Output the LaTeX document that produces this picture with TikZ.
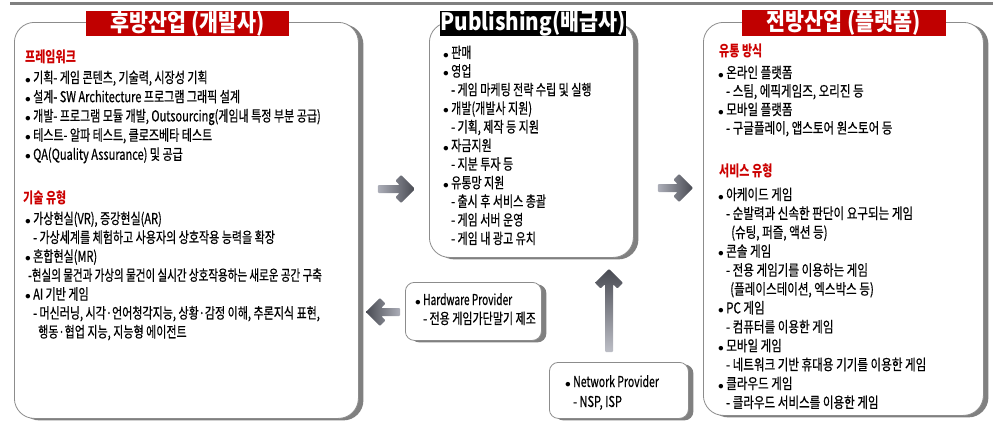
\documentclass[tikz,border=0pt]{standalone}
\usepackage{fontspec}
\newfontfamily\krf[FakeStretch=0.735,FakeBold=0.5]{Noto Sans CJK KR}
\newfontfamily\krr[FakeStretch=0.77,FakeBold=0.5]{Noto Sans CJK KR}
\newfontfamily\krh[FakeStretch=0.735]{Noto Sans CJK KR}
\newfontfamily\ttlf[FakeStretch=0.86]{Noto Sans CJK KR}
\usetikzlibrary{shadows,calc}
\definecolor{tred}{RGB}{192,0,0}
\definecolor{hred}{RGB}{204,0,0}
\definecolor{bord}{RGB}{140,140,140}
\definecolor{shad}{RGB}{128,128,128}
\definecolor{arlight}{RGB}{172,174,184}
\definecolor{ardark}{RGB}{72,74,82}
\newcommand\bulx{\makebox[8pt][l]{\scalebox{0.8}{$\bullet$}}}
\newcommand\subind{\hspace*{8pt}}
\newcommand\gRarrow[2]{%
 \shade[left color=arlight, right color=ardark, rounded corners=1pt] ($(#1)+(0,-4)$) -- ($(#2)+(-15.4,-4)$) -- ($(#2)+(-19.7,-8.3)$) -- ($(#2)+(-14,-14)$) -- (#2) -- ($(#2)+(-14,14)$) -- ($(#2)+(-19.7,8.3)$) -- ($(#2)+(-15.4,4)$) -- ($(#1)+(0,4)$) -- cycle;}
\newcommand\gLarrow[2]{%
 \shade[right color=arlight, left color=ardark, rounded corners=1pt] ($(#1)+(0,-4)$) -- ($(#2)+(15.4,-4)$) -- ($(#2)+(19.7,-8.3)$) -- ($(#2)+(14,-14)$) -- (#2) -- ($(#2)+(14,14)$) -- ($(#2)+(19.7,8.3)$) -- ($(#2)+(15.4,4)$) -- ($(#1)+(0,4)$) -- cycle;}
\newcommand\gUarrow[2]{%
 \shade[bottom color=arlight!80!white, top color=ardark, rounded corners=1pt] ($(#1)+(-4,0)$) -- ($(#2)+(-4,15.4)$) -- ($(#2)+(-8.3,19.7)$) -- ($(#2)+(-14,14)$) -- (#2) -- ($(#2)+(14,14)$) -- ($(#2)+(8.3,19.7)$) -- ($(#2)+(4,15.4)$) -- ($(#1)+(4,0)$) -- cycle;}
\tikzset{
 box/.style={draw=bord, line width=0.8pt, fill=white, rounded corners=20pt, inner sep=0pt, anchor=north west,
   drop shadow={shadow xshift=5pt, shadow yshift=-2pt, fill=shad, opacity=1}},
 sbox/.style={box, rounded corners=9pt},
 ttl/.style={fill=tred, text=white, font=\ttlf\bfseries\fontsize{24}{24}\selectfont, inner sep=0pt, minimum height=23pt},
 txt/.style={anchor=base west, inner sep=0pt, font=\krf\fontsize{15}{19}\selectfont},
 txtr/.style={txt, font=\krr\fontsize{15}{19}\selectfont},
 hdr/.style={txt, text=hred, font=\krh\bfseries\fontsize{15}{19}\selectfont},
}
\begin{document}
\begin{tikzpicture}[x=1pt,y=-1pt]
\useasboundingbox (0,0) rectangle (1000,423);
\draw[shad, line width=3pt] (10,3) -- (993,3);
% boxes
\node[box, minimum width=344pt, minimum height=396pt] (L) at (14,22) {};
\node[box, minimum width=204pt, minimum height=235pt] (M) at (429,22) {};
\node[box, minimum width=280pt, minimum height=393pt] (R) at (703,22) {};
\node[sbox, minimum width=136pt, minimum height=58pt] (H) at (405,282) {};
\node[sbox, minimum width=139pt, minimum height=56pt] (N) at (549,362) {};
% titles
\node[ttl, minimum width=203pt] (Lt) at (187.5,23.5) {후방산업 (개발사)};
\node[ttl, fill=black, minimum width=184pt] (Mt) at (533,23.5) {Publishing(배급사)};
\node[ttl, minimum width=204pt] (Rt) at (844,23) {전방산업 (플랫폼)};
% left box
\node[hdr] (lh1) at (25,62) {프레임워크};
\foreach [count=\i] \t in {%
 {\bulx 기획- 게임 콘텐츠, 기술력, 시장성 기획},
 {\bulx 설계- SW Architecture 프로그램 그래픽 설계},
 {\bulx 개발- 프로그램 모듈 개발, Outsourcing(게임내 특정 부분 공급)},
 {\bulx 테스트- 알파 테스트, 클로즈베타 테스트},
 {\bulx QA(Quality Assurance) 및 공급}}
 \node[txt] (la\i) at (25,{83+(\i-1)*19.2}) {\t};
\node[hdr] (lh2) at (23,203) {기술 유형};
\foreach [count=\i] \t in {%
 {\bulx 가상현실(VR), 증강현실(AR)},
 {\subind - 가상세계를 체험하고 사용자의 상호작용 능력을 확장},
 {\bulx 혼합현실(MR)},
 {\hspace*{3pt}\scalebox{0.955}[1]{-현실의 물건과 가상의 물건이 실시간 상호작용하는 새로운 공간 구축}},
 {\bulx AI 기반 게임},
 {\subind - 머신러닝, 시각·언어청각지능, 상황·감정 이해, 추론지식 표현,},
 {\subind\hspace*{5pt}행동·협업 지능, 지능형 에이전트}}
 \node[txt] (lb\i) at (25,{224+(\i-1)*18.9}) {\t};
% middle box
\foreach [count=\i] \t in {%
 {\bulx 판매},
 {\bulx 영업},
 {\subind -\,게임 마케팅 전략 수립 및 실행},
 {\bulx 개발(개발사 지원)},
 {\subind -\,기획, 제작 등 지원},
 {\bulx 자금지원},
 {\subind -\,지분 투자 등},
 {\bulx 유통망 지원},
 {\subind -\,출시 후 서비스 총괄},
 {\subind -\,게임 서버 운영},
 {\subind -\,게임 내 광고 유치}}
 \node[txt] (ma\i) at (443,{58+(\i-1)*18.6}) {\t};
% right box
\node[hdr] (rh1) at (719,56) {유통 방식};
\foreach [count=\i] \t in {%
 {\bulx 온라인 플랫폼},
 {\subind -\,스팀, 에픽게임즈, 오리진 등},
 {\bulx 모바일 플랫폼},
 {\subind -\,구글플레이, 앱스토어 원스토어 등}}
 \node[txtr] (ra\i) at (718,{78+(\i-1)*18.5}) {\t};
\node[hdr] (rh2) at (719,176) {서비스 유형};
\foreach [count=\i] \t in {%
 {\bulx 아케이드 게임},
 {\subind -\,순발력과 신속한 판단이 요구되는 게임},
 {\subind\hspace*{5pt}(슈팅, 퍼즐, 액션 등)},
 {\bulx 콘솔 게임},
 {\subind -\,전용 게임기를 이용하는 게임},
 {\subind\hspace*{4pt}(플레이스테이션, 엑스박스 등)},
 {\bulx PC 게임},
 {\subind -\,컴퓨터를 이용한 게임},
 {\bulx 모바일 게임},
 {\subind -\,네트워크 기반 휴대용 기기를 이용한 게임},
 {\bulx 클라우드 게임},
 {\subind -\,클라우드 서비스를 이용한 게임}}
 \node[txtr] (rb\i) at (718,{200+(\i-1)*18.9}) {\t};
% small boxes
\node[txt] (h1) at (415,305) {\bulx \scalebox{0.92}[1]{Hardware Provider}};
\node[txt] (h2) at (415,324) {\subind - 전용 게임가단말기 제조};
\node[txt] (n1) at (565,387) {\bulx \scalebox{0.95}[1]{Network Provider}};
\node[txt] (n2) at (565,407) {\subind - NSP, ISP};
% arrows
\coordinate (a1s) at ($(L.east |- 0,189)+(19,0)$);
\coordinate (a1e) at ($(M.west |- 0,189)+(-14,0)$);
\coordinate (a2s) at ($(M.east |- 0,188)+(24,0)$);
\coordinate (a2e) at ($(R.west |- 0,188)+(-10,0)$);
\coordinate (a3s) at ($(H.west |- 0,312)+(-5,0)$);
\coordinate (a3e) at ($(L.east |- 0,312)+(7,0)$);
\coordinate (a4s) at ($(N.north -| 609,0)+(0,-10)$);
\coordinate (a4e) at ($(M.south -| 609,0)+(0,11)$);
\gRarrow{a1s}{a1e}
\gRarrow{a2s}{a2e}
\gLarrow{a3s}{a3e}
\gUarrow{a4s}{a4e}
\end{tikzpicture}
\end{document}
